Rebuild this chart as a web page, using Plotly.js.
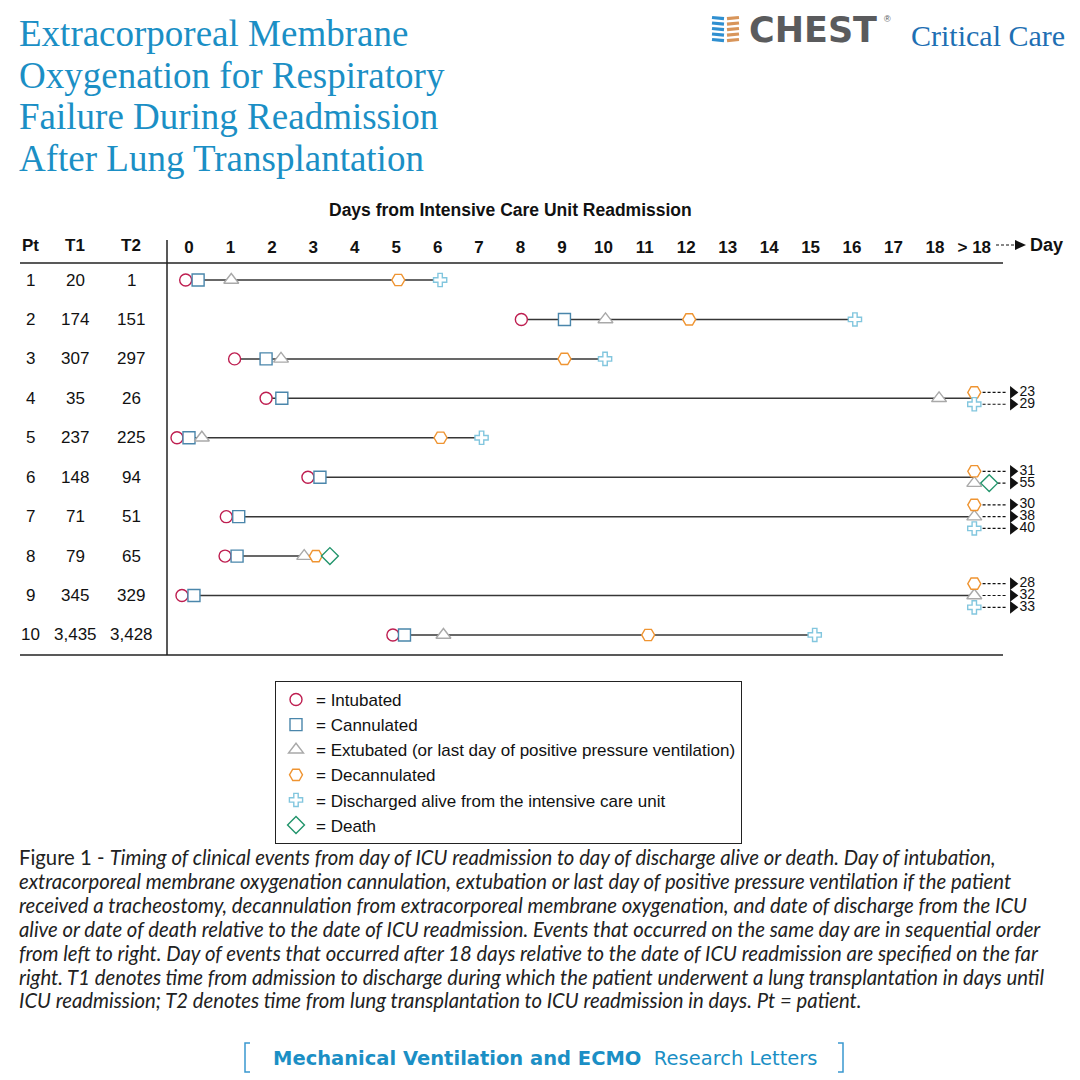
<!DOCTYPE html>
<html><head><meta charset="utf-8">
<script src="https://cdn.plot.ly/plotly-3.0.1.min.js"></script>
<style>html,body{margin:0;padding:0;background:#fff}#chart{width:1080px;height:1080px}</style>
</head><body><div id="chart"></div>
<script>
// ---------------- DATA ----------------
const patients = [1, 2, 3, 4, 5, 6, 7, 8, 9, 10];
const t1 = ['20', '174', '307', '35', '237', '148', '71', '79', '345', '3,435'];
const t2 = ['1', '151', '297', '26', '225', '94', '51', '65', '329', '3,428'];
// Day of each event from ICU readmission (fractions = sequential order within the same day); null = did not occur
const intubated    = [-0.08, 8.02, 1.10, 1.86, -0.29, 2.87, 0.90, 0.87, -0.17, 4.92];
const cannulated   = [0.22, 9.06, 1.86, 2.24, 0.00, 3.16, 1.20, 1.16, 0.12, 5.20];
const extubated    = [1.02, 10.05, 2.22, 18.10, 0.31, 55, 38, 2.78, 32, 6.14];
const decannulated = [5.05, 12.07, 9.06, 23, 6.07, 31, 30, 3.06, 28, 11.08];
const discharged   = [6.06, 16.07, 10.04, 29, 7.06, null, 40, null, 33, 15.10];
const death        = [null, null, null, null, null, 55, null, 3.40, null, null];
const dayTickVals  = [0, 1, 2, 3, 4, 5, 6, 7, 8, 9, 10, 11, 12, 13, 14, 15, 16, 17, 18];
const dayTickText  = ['0', '1', '2', '3', '4', '5', '6', '7', '8', '9', '10', '11', '12', '13', '14', '15', '16', '17', '18'];
const lateTickText = '> 18';

// ---------------- LAYOUT CONSTANTS ----------------
const W = 1080, H = 1080;
const PX_PER_DAY = 41.44, DAY0_PX = 189;
const PX_PER_ROW = 39.44, ROW1_PX = 280;
const X0 = -DAY0_PX / PX_PER_DAY, X1 = X0 + W / PX_PER_DAY;
const YTOP = 1 - ROW1_PX / PX_PER_ROW, YBOT = YTOP + H / PX_PER_ROW;
const GT18_X = 18.95, LEVEL_GAP = 0.3, SAME_GAP = 0.36;
const DASH_END = 19.74, HEAD_X = 19.88, LABEL_X = 20.04;
const px = x => x / W, py = y => 1 - y / H;
const SANS = 'Liberation Sans, Arial, sans-serif';

const eventDefs = [
  {name: '= Intubated', data: intubated, symbol: 'circle', color: '#be1e50', size: 12},
  {name: '= Cannulated', data: cannulated, symbol: 'square', color: '#4a86ab', size: 12},
  {name: '= Extubated (or last day of positive pressure ventilation)', data: extubated, symbol: 'triangle-up', color: '#a9a9a9', size: 13},
  {name: '= Decannulated', data: decannulated, symbol: 'hexagon2', color: '#ef9431', size: 13},
  {name: '= Discharged alive from the intensive care unit', data: discharged, symbol: 'cross', color: '#82c6de', size: 11},
  {name: '= Death', data: death, symbol: 'diamond', color: '#21946b', size: 13}
];

const pos = eventDefs.map(() => ({x: [], y: []}));
const link = {x: [], y: []};
const dash = {x: [], y: []};
const head = {x: [], y: []};
const lab = {x: [], y: [], t: []};

patients.forEach((p, i) => {
  const late = [];
  eventDefs.forEach((e, k) => { const v = e.data[i]; if (v != null && v > 18.5) late.push({k, v}); });
  const levels = [...new Set(late.map(d => d.v))].sort((a, b) => a - b);
  const levelY = v => p + (levels.indexOf(v) - (levels.length - 1) / 2) * LEVEL_GAP;
  const lastX = {};
  let minX = Infinity, maxX = -Infinity;
  eventDefs.forEach((e, k) => {
    const v = e.data[i]; if (v == null) return;
    let x = v, y = p;
    if (v > 18.5) {
      y = levelY(v);
      const order = late.filter(d => d.v === v).findIndex(d => d.k === k);
      x = GT18_X + order * SAME_GAP;
      lastX[v] = Math.max(lastX[v] ?? -Infinity, x);
    }
    pos[k].x.push(x); pos[k].y.push(y);
    minX = Math.min(minX, x);
    maxX = Math.max(maxX, v > 18.5 ? GT18_X : x);
  });
  link.x.push(minX, maxX, null); link.y.push(p, p, null);
  levels.forEach(v => {
    const y = levelY(v);
    dash.x.push(lastX[v] + 0.2, DASH_END, null); dash.y.push(y, y, null);
    head.x.push(HEAD_X); head.y.push(y);
    lab.x.push(LABEL_X); lab.y.push(y); lab.t.push(String(v));
  });
});

const traces = [];
traces.push({type: 'scatter', mode: 'lines', x: link.x, y: link.y, showlegend: false, hoverinfo: 'skip',
  line: {color: '#363636', width: 1.5}});
traces.push({type: 'scatter', mode: 'lines', x: dash.x, y: dash.y, showlegend: false, hoverinfo: 'skip',
  line: {color: '#111', width: 1.2, dash: '3px,2px'}});
traces.push({type: 'scatter', mode: 'markers', x: head.x, y: head.y, showlegend: false, hoverinfo: 'skip',
  marker: {symbol: 'triangle-right', size: 11, color: '#111', line: {width: 0}}});
traces.push({type: 'scatter', mode: 'text', x: lab.x, y: lab.y, text: lab.t, textposition: 'middle right',
  showlegend: false, hoverinfo: 'skip', textfont: {family: SANS, size: 14, color: '#111'}});
eventDefs.forEach((e, k) => {
  traces.push({type: 'scatter', mode: 'markers', name: e.name, x: pos[k].x, y: pos[k].y,
    marker: {symbol: e.symbol, size: e.size, color: '#ffffff', line: {color: e.color, width: 1.4}}});
});

// ---------------- TEXT ----------------
const ann = [];
const titleLines = ['Extracorporeal Membrane', 'Oxygenation for Respiratory', 'Failure During Readmission', 'After Lung Transplantation'];
titleLines.forEach((t, i) => ann.push({text: t, xref: 'paper', yref: 'paper', x: px(17), y: py(34 + i * 41.4),
  xanchor: 'left', yanchor: 'middle', showarrow: false,
  font: {family: 'Liberation Serif, Times New Roman, serif', size: 37, color: '#1b8fc5'}}));

ann.push({text: 'CHEST', xref: 'paper', yref: 'paper', x: px(747), y: py(30), xanchor: 'left', yanchor: 'middle', showarrow: false,
  font: {family: 'DejaVu Sans, sans-serif', size: 35, weight: 'bold', color: '#5a5b5d'}});
ann.push({text: '®', xref: 'paper', yref: 'paper', x: px(882), y: py(19), xanchor: 'left', yanchor: 'middle', showarrow: false,
  font: {family: SANS, size: 9, color: '#58595b'}});
ann.push({text: 'Critical Care', xref: 'paper', yref: 'paper', x: px(909), y: py(35), xanchor: 'left', yanchor: 'middle', showarrow: false,
  font: {family: 'Liberation Serif, Times New Roman, serif', size: 30, color: '#1e6fb3'}});

ann.push({text: '<b>Days from Intensive Care Unit Readmission</b>', xref: 'paper', yref: 'paper', x: px(510), y: py(210),
  xanchor: 'center', yanchor: 'middle', showarrow: false, font: {family: SANS, size: 17.5, color: '#111'}});
[['Pt', 30], ['T1', 75], ['T2', 131]].forEach(([t, x]) => ann.push({text: '<b>' + t + '</b>', xref: 'paper', yref: 'paper',
  x: px(x), y: py(245), xanchor: 'center', yanchor: 'middle', showarrow: false, font: {family: SANS, size: 17, color: '#111'}}));
ann.push({text: '<b>Day</b>', xref: 'paper', yref: 'paper', x: px(1028), y: py(245), xanchor: 'left', yanchor: 'middle',
  showarrow: false, font: {family: SANS, size: 18, color: '#111'}});

patients.forEach((p, i) => {
  [[String(p), 30], [t1[i], 75], [t2[i], 131]].forEach(([t, x]) => ann.push({text: t, xref: 'paper', yref: 'y',
    x: px(x), y: p, xanchor: 'center', yanchor: 'middle', showarrow: false, font: {family: SANS, size: 17, color: '#111'}}));
});

const captionLines = [
  'Figure 1 - <i>Timing of clinical events from day of ICU readmission to day of discharge alive or death. Day of intubation,</i>',
  '<i>extracorporeal membrane oxygenation cannulation, extubation or last day of positive pressure ventilation if the patient</i>',
  '<i>received a tracheostomy, decannulation from extracorporeal membrane oxygenation, and date of discharge from the ICU</i>',
  '<i>alive or date of death relative to the date of ICU readmission. Events that occurred on the same day are in sequential order</i>',
  '<i>from left to right. Day of events that occurred after 18 days relative to the date of ICU readmission are specified on the far</i>',
  '<i>right. T1 denotes time from admission to discharge during which the patient underwent a lung transplantation in days until</i>',
  '<i>ICU readmission; T2 denotes time from lung transplantation to ICU readmission in days. Pt = patient.</i>'
];
captionLines.forEach((t, i) => ann.push({text: t, xref: 'paper', yref: 'paper', x: px(17), y: py(857 + i * 23.9),
  xanchor: 'left', yanchor: 'middle', showarrow: false, font: {family: 'Lato, sans-serif', size: 20.3, color: '#222'}}));

ann.push({text: '<b>Mechanical Ventilation and ECMO</b>  Research Letters', xref: 'paper', yref: 'paper', x: px(271), y: py(1058),
  xanchor: 'left', yanchor: 'middle', showarrow: false, font: {family: 'DejaVu Sans, sans-serif', size: 19.5, color: '#1b8fc5'}});

// ---------------- SHAPES ----------------
const shapes = [];
const line = (x0, y0, x1, y1, color, width, dashS) => shapes.push({type: 'line', xref: 'paper', yref: 'paper',
  x0: px(x0), y0: py(y0), x1: px(x1), y1: py(y1), line: {color, width, dash: dashS || 'solid'}});
line(20, 263, 1003, 263, '#222', 1.5);
line(20, 655, 1003, 655, '#222', 1.5);
line(167, 240, 167, 655, '#222', 1.5);
line(996, 245, 1017, 245, '#111', 1.2, '3px,2px');
shapes.push({type: 'path', xref: 'paper', yref: 'paper', fillcolor: '#111', line: {width: 0},
  path: `M ${px(1015)},${py(240)} L ${px(1026)},${py(245)} L ${px(1015)},${py(250)} Z`});
// brackets
const bracket = (x, dir) => shapes.push({type: 'path', xref: 'paper', yref: 'paper', line: {color: '#3a98cf', width: 1.5},
  path: `M ${px(x + dir * 5)},${py(1043)} L ${px(x)},${py(1043)} L ${px(x)},${py(1072)} L ${px(x + dir * 5)},${py(1072)}`});
bracket(245, 1); bracket(843, -1);
// logo stripes
[17.5, 23, 28.5, 34, 39.5].forEach((y, i) => {
  line(712, y, 724, y + 1.2, '#2f8fd0', 3.2);
  line(727, y + 1.2, 739, y, '#d8955a', 3.2);
});

const layout = {
  width: W, height: H, margin: {l: 0, r: 0, t: 0, b: 0}, paper_bgcolor: '#fff', plot_bgcolor: '#fff',
  showlegend: true,
  legend: {x: px(275), y: py(681), xanchor: 'left', yanchor: 'top', bgcolor: '#fff', bordercolor: '#222', borderwidth: 1,
    font: {family: SANS, size: 17, color: '#111'}, itemwidth: 30, tracegroupgap: 0},
  xaxis: {range: [X0, X1], side: 'top', anchor: 'free', position: py(256), tickmode: 'array',
    tickvals: dayTickVals.concat([GT18_X]), ticktext: dayTickText.concat([lateTickText]),
    tickfont: {family: SANS, size: 17, weight: 'bold', color: '#111'}, showgrid: false, zeroline: false,
    showline: false, ticks: '', fixedrange: true},
  yaxis: {range: [YBOT, YTOP], visible: false, showgrid: false, zeroline: false, fixedrange: true},
  annotations: ann, shapes: shapes, hovermode: false
};
Plotly.newPlot('chart', traces, layout, {displayModeBar: false, staticPlot: true});
</script></body></html>
